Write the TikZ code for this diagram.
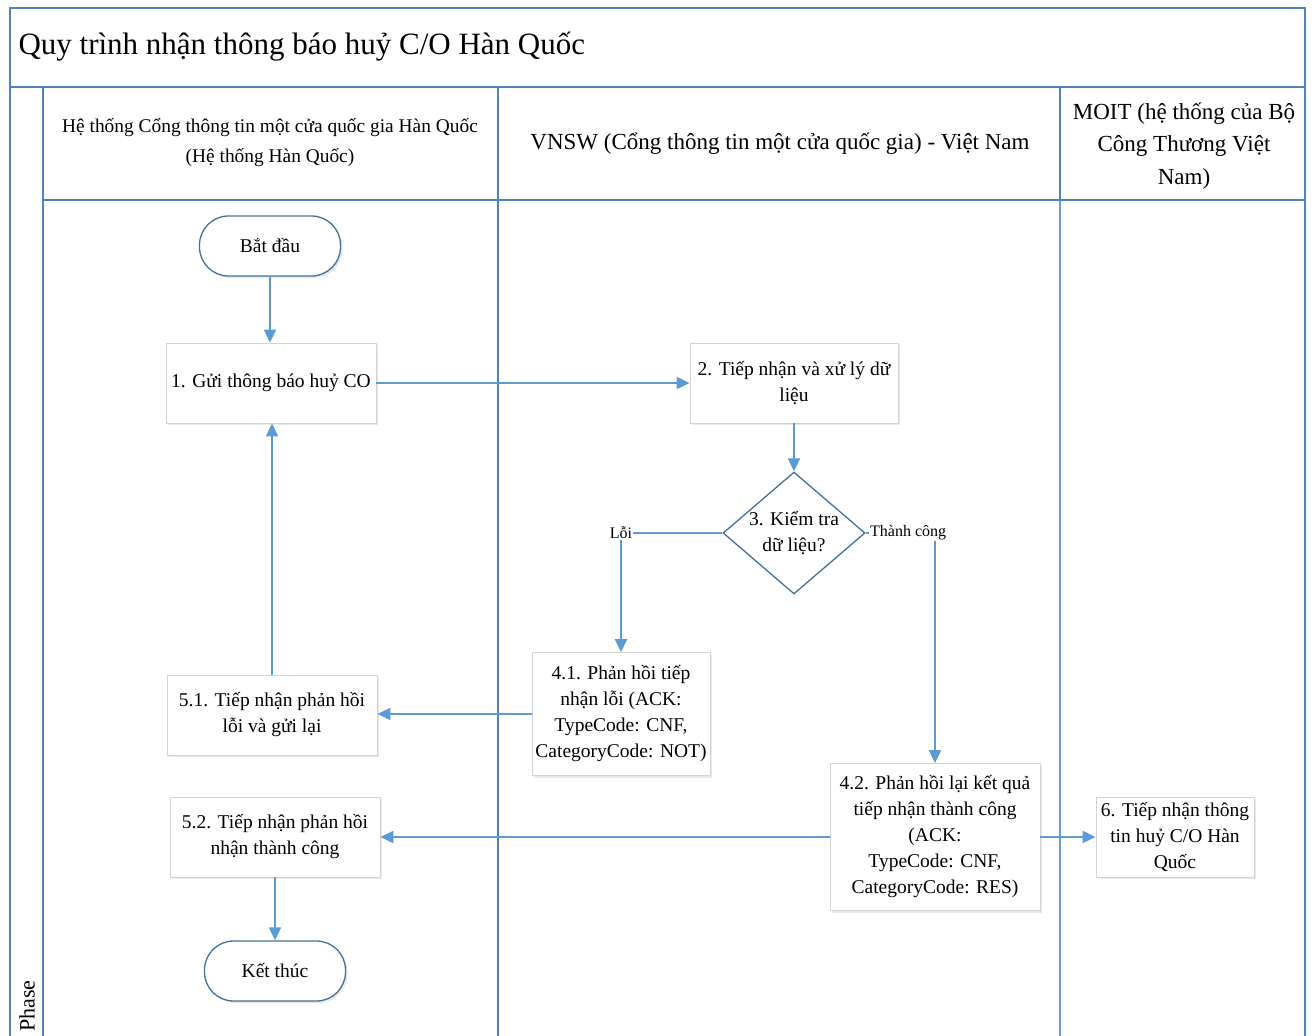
\documentclass[tikz,border=0pt]{standalone}
\usepackage{fontspec}
\setmainfont{Liberation Serif}
\usetikzlibrary{shapes.geometric,arrows.meta,shadows}
\definecolor{lanec}{HTML}{4F81BD}
\definecolor{lanel}{HTML}{6A9BD8}
\definecolor{arrc}{HTML}{5B9BD5}
\definecolor{boxc}{HTML}{D4D4D4}
\definecolor{termc}{HTML}{41719C}
\begin{document}
\begin{tikzpicture}[x=1pt,y=-1pt,
  lane/.style={draw=lanec,line width=1.6pt},
  lanelight/.style={draw=lanel,line width=1.4pt},
  hdr/.style={align=center,font=\fontsize{23}{32.5}\selectfont},
  proc/.style={draw=boxc,line width=0.8pt,fill=white,minimum width=210pt,minimum height=80pt,
     align=center,inner sep=2pt,font=\fontsize{19.5}{26}\selectfont,
     drop shadow={opacity=0.18,shadow xshift=2pt,shadow yshift=-2pt}},
  term/.style={draw=termc,line width=1.3pt,fill=white,rounded corners=29pt,minimum width=141pt,
     minimum height=60pt,font=\fontsize{19.5}{24}\selectfont,
     drop shadow={opacity=0.18,shadow xshift=2pt,shadow yshift=-2pt}},
  dec/.style={diamond,draw=termc,line width=1.3pt,fill=white,minimum width=142pt,minimum height=122pt,
     inner sep=0pt,aspect=1.16,align=center,font=\fontsize{19.5}{26}\selectfont},
  flow/.style={draw=arrc,line width=2pt,-{Triangle[length=13pt,width=12pt]}},
  lbl/.style={fill=white,inner sep=1pt,font=\fontsize{16}{18}\selectfont}
]
\useasboundingbox (0,0) rectangle (1312,1036);
\clip (0,0) rectangle (1312,1036);
% frame and lanes
\draw[lane] (10,1040) -- (10,8) -- (1305,8) -- (1305,1040);
\draw[lane] (10,87) -- (1305,87);
\draw[lane] (43,87) -- (43,1040);
\draw[lane] (498,87) -- (498,1040);
\draw[lane] (1060,87) -- (1060,200);
\draw[lanelight] (1060,200) -- (1060,1040);
\draw[lane] (43,200) -- (1305,200);
% title and headers
\node[anchor=west,font=\fontsize{31}{35}\selectfont] (title) at (15,47) {Quy trình nhận thông báo huỷ C/O Hàn Quốc};
\node[hdr,font=\fontsize{19.4}{30}\selectfont] (h1) at (270,143) {Hệ thống Cổng thông tin một cửa quốc gia Hàn Quốc\\(Hệ thống Hàn Quốc)};
\node[hdr] (h2) at (780,144) {VNSW (Cổng thông tin một cửa quốc gia) - Việt Nam};
\node[hdr] (h3) at (1184,146) {MOIT (hệ thống của Bộ\\Công Thương Việt\\Nam)};
\node[rotate=90,anchor=west,inner sep=0pt,font=\fontsize{22}{26}\selectfont] (phase) at (27,1032) {Phase};
% nodes
\node[term] (start) at (270,246) {Bắt đầu};
\node[proc] (n1) at (271,383) {1. Gửi thông báo huỷ CO};
\node[proc,minimum width=208pt] (n2) at (794,383) {2. Tiếp nhận và xử lý dữ\\liệu};
\node[dec] (d3) at (794,533) {3. Kiểm tra\\dữ liệu?};
\node[proc,minimum width=178pt,minimum height=123pt] (n41) at (621,714) {4.1. Phản hồi tiếp\\nhận lỗi (ACK:\\TypeCode: CNF,\\CategoryCode: NOT)};
\node[proc] (n51) at (272,715) {5.1. Tiếp nhận phản hồi\\lỗi và gửi lại};
\node[proc,minimum width=210pt,minimum height=147pt] (n42) at (935,837) {4.2. Phản hồi lại kết quả\\tiếp nhận thành công\\(ACK:\\TypeCode: CNF,\\CategoryCode: RES)};
\node[proc] (n52) at (275,837) {5.2. Tiếp nhận phản hồi\\nhận thành công};
\node[proc,minimum width=158pt] (n6) at (1175,837) {6. Tiếp nhận thông\\tin huỷ C/O Hàn\\Quốc};
\node[term] (end) at (275,971) {Kết thúc};
% connectors
\coordinate (cl) at (621,533);
\coordinate (cr) at (935,533);
\draw[flow] (start) -- (start |- n1.north);
\draw[flow] (n1) -- (n2);
\draw[flow] (n2) -- (d3);
\draw[flow] (d3.west) -- (cl) -- (n41.north);
\draw[flow] (d3.east) -- (cr) -- (n42.north);
\draw[flow] (n41.west) -- (n41.west -| n51.east);
\draw[flow] (n51.north) -- (n51.north |- n1.south);
\draw[flow] (n42.west) -- (n42.west -| n52.east);
\draw[flow] (n42.east) -- (n6.west);
\draw[flow] (n52) -- (end);
\node[lbl] (lloi) at (621,533) {Lỗi};
\node[lbl,anchor=west] (lok) at (869,533) {Thành công};
\end{tikzpicture}
\end{document}
